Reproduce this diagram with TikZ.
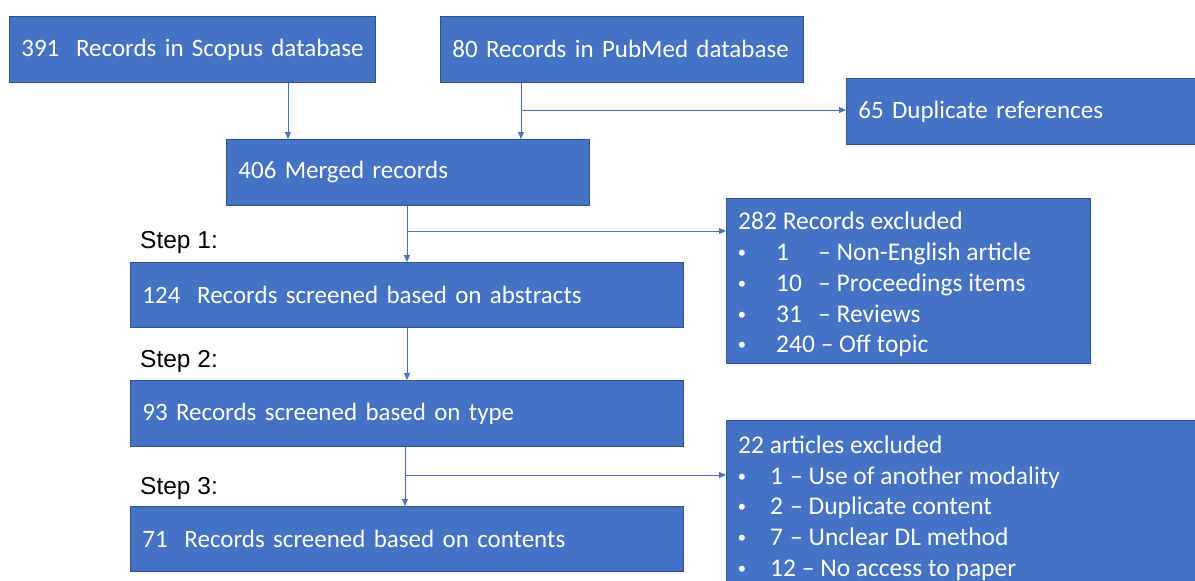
\documentclass[tikz,border=0pt]{standalone}
\usepackage{fontspec}
\setmainfont{Carlito}
\newfontfamily\stepfont{Liberation Sans}
\usetikzlibrary{arrows.meta}
\definecolor{boxblue}{HTML}{4472C4}
\definecolor{boxedge}{HTML}{2F528F}
\definecolor{linkblue}{HTML}{4472C4}
\tikzset{
  x=1pt, y=-1pt,
  fbox/.style={draw=boxedge, line width=0.8pt, fill=boxblue, text=white,
    anchor=north west, inner xsep=12pt, inner ysep=0pt, align=left,
    font=\fontsize{25}{29}\selectfont},
  ebox/.style={draw=boxedge, line width=0.8pt, fill=boxblue, anchor=north west, inner sep=0pt},
  etext/.style={text=white, anchor=base west, inner sep=0pt, font=\fontsize{25.5}{29}\selectfont},
  steplbl/.style={anchor=west, inner sep=0pt, font=\stepfont\fontsize{24.5}{28}\selectfont},
  arr/.style={draw=linkblue, line width=0.9pt, -{Triangle[length=7pt,width=6pt]}},
  lnk/.style={draw=linkblue, line width=0.9pt}
}
\newcommand{\bul}[1]{\makebox[#1][l]{{\stepfont\fontsize{22}{24}\selectfont•}}}
\begin{document}
\begin{tikzpicture}
\useasboundingbox[fill=white] (0,0) rectangle (1195,581);
% boxes
\node[fbox, text width=342pt, minimum height=66pt] (scopus) at (9,16) {\makebox[0pt][l]{391\ \ Records in Scopus database}};
\node[fbox, text width=339pt, minimum height=66pt] (pubmed) at (440,16) {\makebox[0pt][l]{80 Records in PubMed database}};
\node[fbox, text width=325pt, minimum height=66pt] (dup) at (846,78) {65 Duplicate references};
\node[fbox, text width=339pt, minimum height=66pt] (merged) at (226,139) {406 Merged records};
\node[fbox, text width=529pt, minimum height=65pt] (s1) at (130,262) {124\ \ Records screened based on abstracts};
\node[fbox, text width=529pt, minimum height=66pt] (s2) at (130,380) {93 Records screened based on type};
\node[fbox, text width=529pt, minimum height=65pt] (s3) at (130,506) {71\ \ Records screened based on contents};
\node[ebox, minimum width=364pt, minimum height=165pt] (ex1) at (726,198) {};
\node[ebox, minimum width=475pt, minimum height=166pt] (ex2) at (726,420) {};
% excluded texts
\node[etext] (ex1h) at (738,229) {282 Records excluded};
\node[etext] (ex1a) at (738,260) {\bul{38pt}\makebox[42pt][l]{1}– Non-English article};
\node[etext] (ex1b) at (738,291) {\bul{38pt}\makebox[42pt][l]{10}– Proceedings items};
\node[etext] (ex1c) at (738,322) {\bul{38pt}\makebox[42pt][l]{31}– Reviews};
\node[etext] (ex1d) at (738,352) {\bul{38pt}240 – Off topic};
\node[etext] (ex2h) at (738,453) {22 articles excluded};
\node[etext] (ex2a) at (738,484) {\bul{32pt}\makebox[20pt][l]{1}– Use of another modality};
\node[etext] (ex2b) at (738,514) {\bul{32pt}\makebox[20pt][l]{2}– Duplicate content};
\node[etext] (ex2c) at (738,545) {\bul{32pt}\makebox[20pt][l]{7}– Unclear DL method};
\node[etext] (ex2d) at (738,576) {\bul{32pt}12 – No access to paper};
% step labels
\node[steplbl] (st1) at (140,242) {Step 1:};
\node[steplbl] (st2) at (140,361) {Step 2:};
\node[steplbl] (st3) at (140,488) {Step 3:};
% connector coordinates
\coordinate (ca) at (288,100);
\coordinate (cb) at (521,110);
\coordinate (cc) at (407,231);
\coordinate (cd) at (405,475);
% connectors
\draw[arr] (scopus.south -| ca) -- (merged.north -| ca);
\draw[arr] (pubmed.south -| cb) -- (merged.north -| cb);
\draw[arr] (cb) -- (dup.west |- cb);
\draw[arr] (merged.south -| cc) -- (s1.north -| cc);
\draw[arr] (cc) -- (ex1.west |- cc);
\draw[arr] (s1.south -| cc) -- (s2.north -| cc);
\draw[arr] (s2.south -| cd) -- (s3.north -| cd);
\draw[arr] (cd) -- (ex2.west |- cd);
\end{tikzpicture}
\end{document}
